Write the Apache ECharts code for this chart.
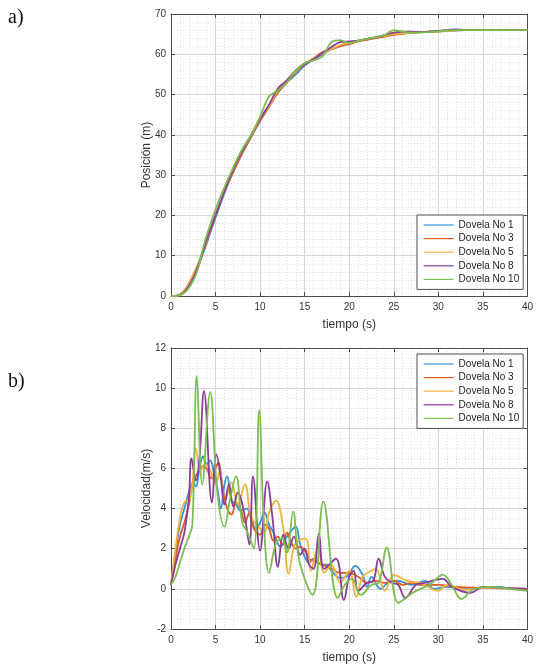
<!DOCTYPE html>
<html><head><meta charset="utf-8">
<script src="https://cdn.jsdelivr.net/npm/echarts@6/dist/echarts.min.js"></script>
<style>html,body{margin:0;padding:0;background:#fff}#c{width:536px;height:667px}</style>
</head><body><div id="c"></div>
<script>
var names = ['Dovela No 1','Dovela No 3','Dovela No 5','Dovela No 8','Dovela No 10'];
var colors = ['#3296d8','#e05a28','#f0b440','#8a3c98','#7cbd52'];
var xTicks = [0,5,10,15,20,25,30,35,40];

// Position (m)
var tPos = [0,0.5,1,1.5,2,2.5,3,3.5,4,5,6,7,8,9,10,11,12,13,14,15,16,17,18,19,20,21,22,23,24,25,26,27,28,29,30,31,32,33,35,40];
var pos1 = [0,0,0.3,1.2,2.6,4.5,7,10,13,19.5,25.5,31,35.5,39.5,43.5,47,50.5,53,55,57.2,58.7,60,61.2,62,62.7,63.3,63.8,64.1,64.6,65.0,65.2,65.4,65.5,65.6,65.7,65.8,65.9,66,66,66];
var pos3 = [0,0,0.3,1.3,3,5,7.5,10.5,13.5,20,26,30.8,35.5,39.5,43.5,47,50.5,53,55.5,57.5,59,60.5,61.3,62,62.5,63.2,63.6,64,64.4,64.8,65.1,65.3,65.5,65.6,65.7,65.8,66,66,66,66];
var pos5 = [0,0,0.4,1.5,3.2,5.4,7.8,10.7,13.8,20.5,26,31.5,36,40,44,47.2,51,53.5,55.7,57.5,59,60.2,61.2,62.3,62.8,63.3,63.8,64.3,64.6,65,65.2,65.4,65.5,65.6,65.6,65.8,65.9,66,66,66];
var pos8 = [0,0,0.3,1.0,2.5,4.5,7.2,10.5,14,20,26,31.5,36,40,44,47.5,51.5,53.5,56,57.5,58.8,60.3,61.8,63,63.2,63.4,63.8,64.2,64.8,65.4,65.6,65.6,65.5,65.6,65.8,66,66.2,66,66,66];
var pos10 = [0,0,0.2,0.8,2.0,3.8,6.5,11,15,21.5,27,32,36.5,40,44.5,49.5,51,53,56,57.8,58.5,59.5,63.0,63.5,62.8,63.3,63.8,64.2,64.8,66.0,65.6,65.4,65.4,65.5,65.7,65.9,66,66,66,66];

// Velocity (m/s)
var tVel1 = [0,0.5,1,1.5,2,2.5,2.8,3.2,3.6,4.0,4.4,4.8,5.2,5.6,6.0,6.3,6.8,7.3,7.8,8.5,9.0,9.5,10.0,10.5,11.0,11.5,12.3,13.0,13.5,14.0,14.5,15.0,15.5,16.0,16.5,17.0,17.5,18.0,19.0,19.7,20.7,21.5,22.0,22.5,23.5,24.5,25.5,27.0,28.5,29.5,31,33,35,37,38,40];
var vel1  = [0.2,1.8,3.2,4.0,4.8,5.3,5.1,6.0,6.6,6.2,6.4,5.8,5.0,4.0,5.2,5.6,4.4,4.2,3.9,4.0,3.5,3.0,3.3,3.8,3.2,2.8,2.1,2.6,2.9,3.1,2.2,1.6,1.3,1.5,1.3,1.2,1.2,0.9,0.55,0.6,1.15,0.7,0.1,0.6,0.0,0.35,0.4,0.2,0.4,0.0,0.1,0.05,0.05,0.1,0.0,0.0];
var tVel3 = [0,0.5,1,1.5,2,2.5,3,3.5,4,4.5,5,5.3,5.8,6.3,6.8,7.3,7.8,8.3,8.8,9.3,10,10.5,11,11.5,12,12.5,13,13.5,14,14.5,15,15.5,16,17,18,19,20,21,22,23,24,25,26,27,28,30,32,35,40];
var vel3  = [0.2,1.5,2.6,3.3,4.2,5.3,5.8,6.1,6.0,5.5,6.0,6.3,5.0,4.0,3.7,4.3,4.0,3.3,3.8,3.0,2.7,3.2,3.0,2.4,2.6,2.2,2.8,2.3,2.0,2.1,1.9,1.5,1.4,1.2,1.0,0.8,0.8,0.6,0.3,0.4,0.3,0.4,0.2,0.3,0.2,0.2,0.1,0.05,0.0];
var tVel5 = [0,0.5,1,1.5,2.2,2.8,3.3,3.8,4.3,5.0,5.5,6.0,6.8,7.5,8.3,9.0,10.0,10.5,11.0,11.8,12.6,13.2,14.0,15.1,15.7,16.5,17.2,18.0,19.0,20.0,20.8,21.5,22.5,23.0,24.0,25.0,26.5,28.0,30.0,31.0,33.0,35,40];
var vel5  = [0.2,2.0,3.5,4.3,4.6,7.0,5.9,6.2,6.0,5.2,5.9,4.3,5.3,4.2,5.2,3.6,3.0,2.8,3.8,4.4,3.0,0.75,2.3,2.5,0.9,2.1,0.8,1.2,0.3,0.9,-0.4,0.6,0.9,1.0,-0.1,0.7,0.4,0.3,-0.1,0.2,-0.05,0.05,0.0];
var tVel8 = [0,0.5,1,1.5,2.0,2.3,2.8,3.2,3.7,4.6,5.1,5.6,6.0,6.5,7.0,7.5,8.2,8.8,9.2,10.0,10.8,11.4,12.0,12.6,13.2,13.8,14.5,15.0,15.5,16.0,16.6,17.2,18.5,19.4,20.0,20.5,21.0,22.0,22.7,23.3,24.0,24.8,25.5,26.3,27.5,28.5,30.5,31.5,33.6,35,37,40];
var vel8  = [0.2,1.2,2.0,2.8,4.5,6.5,5.4,6.5,9.85,4.3,6.7,5.5,4.2,5.2,4.1,4.8,3.8,2.2,5.6,1.9,5.35,3.5,1.1,2.7,2.0,2.6,1.7,2.0,1.2,1.0,2.75,1.0,1.5,-0.55,0.6,0.9,-0.1,0.3,0.4,1.5,0.6,0.3,0.2,-0.45,0.2,0.3,0.5,0.1,-0.2,0.1,0.05,0.0];
var tVel10 = [0,0.5,1,1.5,2,2.4,2.9,3.5,4.4,5.2,6.0,6.6,7.3,8.0,8.6,9.3,9.9,10.4,11.0,11.8,12.5,13.0,13.7,14.4,15.9,17.1,18.7,19.5,20.3,21.3,22.5,23.3,24.2,25.5,26.5,27.5,29,30.5,31.5,32.6,34,36,38,40];
var vel10  = [0.2,0.6,1.3,2.0,2.6,3.2,10.6,5.2,9.8,4.8,3.1,4.4,5.6,3.3,2.8,2.0,8.9,3.5,0.8,2.3,2.5,1.8,3.85,1.4,-0.3,4.35,-0.45,0.2,0.5,-0.3,0.2,0.3,2.05,-0.7,-0.4,-0.1,0.2,0.7,0.2,-0.5,0.0,0.1,0.0,-0.1];

function pairs(t, v){ return t.map(function(x,i){return [x, v[i]];}); }
var posData = [pairs(tPos,pos1),pairs(tPos,pos3),pairs(tPos,pos5),pairs(tPos,pos8),pairs(tPos,pos10)];
var velData = [pairs(tVel1,vel1),pairs(tVel3,vel3),pairs(tVel5,vel5),pairs(tVel8,vel8),pairs(tVel10,vel10)];

var axCol = '#4d4d4d', txtCol = '#333';
var font = 'Liberation Sans, Arial, sans-serif';
var major = {show:true, lineStyle:{color:'#d6d6d6', width:1}};
var minor = {show:true, lineStyle:{color:'#e0e0e0', width:1, type:[1,2]}};

function mainX(gi, name){
  return {type:'value', gridIndex:gi, min:0, max:40, interval:5, position:'bottom',
    name:name, nameLocation:'middle', nameGap:23, nameTextStyle:{color:txtCol, fontSize:12, fontFamily:font},
    axisLine:{show:true, onZero:false, lineStyle:{color:axCol}}, axisTick:{show:true, inside:true, length:4, lineStyle:{color:axCol}},
    axisLabel:{color:txtCol, fontSize:10, fontFamily:font, margin:6},
    splitLine:major, minorTick:{show:false, splitNumber:5}, minorSplitLine:minor};
}
function topX(gi){
  return {type:'value', gridIndex:gi, min:0, max:40, interval:5, position:'top',
    axisLine:{show:true, onZero:false, lineStyle:{color:axCol}}, axisTick:{show:true, inside:true, length:4, lineStyle:{color:axCol}},
    axisLabel:{show:false}, splitLine:{show:false}};
}
function mainY(gi, name, mn, mx, iv, ms){
  return {type:'value', gridIndex:gi, min:mn, max:mx, interval:iv, position:'left',
    name:name, nameLocation:'middle', nameGap:18, nameMoveOverlap:false,
    nameTextStyle:{color:txtCol, fontSize:12, fontFamily:font},
    axisLine:{show:true, onZero:false, lineStyle:{color:axCol}}, axisTick:{show:true, inside:true, length:4, lineStyle:{color:axCol}},
    axisLabel:{color:txtCol, fontSize:10, fontFamily:font, margin:5},
    splitLine:major, minorTick:{show:false, splitNumber:ms}, minorSplitLine:minor};
}
function rightY(gi, mn, mx, iv){
  return {type:'value', gridIndex:gi, min:mn, max:mx, interval:iv, position:'right',
    axisLine:{show:true, onZero:false, lineStyle:{color:axCol}}, axisTick:{show:true, inside:true, length:4, lineStyle:{color:axCol}},
    axisLabel:{show:false}, splitLine:{show:false}};
}
function legend(top){
  return {data:names, orient:'vertical', left:417, top:top, backgroundColor:'#fff',
    borderColor:axCol, borderWidth:1, borderRadius:0, padding:[5,4,5,6],
    itemWidth:30, itemHeight:10, itemGap:3.6, selectedMode:false,
    itemStyle:{opacity:0}, lineStyle:{width:1.2},
    textStyle:{color:'#222', fontSize:10, fontFamily:font}};
}

var series = [];
names.forEach(function(n,i){
  series.push({name:n, type:'line', xAxisIndex:0, yAxisIndex:0, data:posData[i], symbol:'none', smooth:0.4,
    lineStyle:{width:1.8, color:colors[i]}, itemStyle:{color:colors[i]}, z:2+i});
});
names.forEach(function(n,i){
  series.push({name:n, type:'line', xAxisIndex:2, yAxisIndex:2, data:velData[i], symbol:'none', smooth:0.4,
    lineStyle:{width:1.8, color:colors[i]}, itemStyle:{color:colors[i]}, z:2+i});
});

var chart = echarts.init(document.getElementById('c'), null, {renderer:'canvas'});
chart.setOption({
  animation:false,
  backgroundColor:'#fff',
  grid:[{left:171, right:7, top:14, height:282}, {left:171, right:7, top:348, height:281}],
  xAxis:[mainX(0,'tiempo (s)'), topX(0), mainX(1,'tiempo (s)'), topX(1)],
  yAxis:[mainY(0,'Posición (m)',0,70,10,5), rightY(0,0,70,10), mainY(1,'Velocidad(m/s)',-2,12,2,4), rightY(1,-2,12,2)],
  legend:[legend(215), legend(354)],
  graphic:[
    {type:'text', left:8, top:8, style:{text:'a)', fontSize:20, fontFamily:'Liberation Serif, Times New Roman, serif', fill:'#111'}},
    {type:'text', left:8, top:372, style:{text:'b)', fontSize:20, fontFamily:'Liberation Serif, Times New Roman, serif', fill:'#111'}}
  ],
  series:series
});
</script></body></html>
